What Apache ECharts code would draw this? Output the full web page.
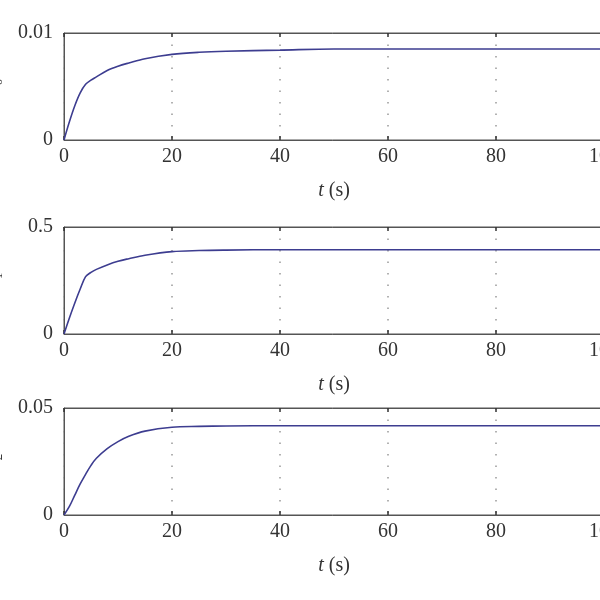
<!DOCTYPE html>
<html>
<head>
<meta charset="utf-8">
<script src="https://cdn.jsdelivr.net/npm/echarts@6/dist/echarts.min.js"></script>
<style>html,body{margin:0;padding:0;background:#fff}#c{width:600px;height:600px}</style>
</head>
<body>
<div id="c"></div>
<script>
var tValues = [0,1,2,3,4,5,6,8,10,12,15,20,25,30,40,50,60,80,100];
var x0Values = [0,0.0017,0.0032,0.0044,0.0052,0.0056,0.0059,0.0065,0.0069,0.0072,0.0076,0.0080,0.0082,0.0083,0.0084,0.0085,0.0085,0.0085,0.0085];
var x1Values = [0,0.075,0.145,0.21,0.268,0.288,0.302,0.323,0.340,0.352,0.368,0.385,0.390,0.392,0.394,0.394,0.394,0.394,0.394];
var x2Values = [0,0.0040,0.0093,0.0145,0.0190,0.0232,0.0265,0.0310,0.0343,0.0368,0.0392,0.0410,0.0414,0.0416,0.0417,0.0417,0.0417,0.0417,0.0417];
var xTicks = [0,20,40,60,80,100];
var yMaxes = [0.01, 0.5, 0.05];
var yNames = ['{i|x}{s|0}','{i|x}{s|1}','{i|x}{s|2}'];
var xName = '{i|t} (s)';

var font = 'Liberation Serif';
var lineColor = '#3d3d90';
var frame = '#555';
var tops = [33, 227, 408];
var h = 107;

function pairs(ys){ return tValues.map(function(t,i){ return [t, ys[i]]; }); }
var seriesData = [x0Values, x1Values, x2Values];

var grids = [], xAxes = [], yAxes = [], series = [];
for (var i = 0; i < 3; i++) {
  grids.push({left: 64, right: -4, top: tops[i], height: h, outerBoundsMode: 'none', containLabel: false,
    show: true, borderColor: frame, borderWidth: 1, backgroundColor: 'transparent'});
  xAxes.push({
    type: 'value', gridIndex: i, min: 0, max: 100, interval: 20, position: 'bottom',
    name: xName, nameLocation: 'middle', nameGap: 41,
    nameTextStyle: {fontFamily: font, fontSize: 20, color: '#333',
      rich: {i: {fontFamily: font, fontSize: 20, fontStyle: 'italic', color: '#333'}}},
    axisLine: {show: true, lineStyle: {color: frame, width: 1}},
    axisTick: {show: true, inside: true, length: 4, lineStyle: {color: '#333', width: 1.5}},
    axisLabel: {fontFamily: font, fontSize: 20, color: '#333', margin: 7},
    splitLine: {show: true, lineStyle: {color: '#999', type: [1.5, 10], width: 1.5}}
  });
  xAxes.push({
    type: 'value', gridIndex: i, min: 0, max: 100, interval: 20, position: 'top',
    axisLine: {show: true, lineStyle: {color: frame, width: 1}},
    axisTick: {show: true, inside: true, length: 4, lineStyle: {color: '#333', width: 1.5}},
    axisLabel: {show: false}, splitLine: {show: false}
  });
  yAxes.push({
    type: 'value', gridIndex: i, min: 0, max: yMaxes[i], interval: yMaxes[i],
    name: yNames[i], nameLocation: 'middle', nameGap: 59, nameRotate: 90,
    nameTextStyle: {fontFamily: font, fontSize: 17, color: '#333',
      rich: {i: {fontFamily: font, fontSize: 20, fontStyle: 'italic', color: '#333'},
             s: {fontFamily: font, fontSize: 13, color: '#333', padding: [8, 0, 0, 0]}}},
    axisLine: {show: true, lineStyle: {color: frame, width: 1}},
    axisTick: {show: false},
    axisLabel: {fontFamily: font, fontSize: 20, color: '#333', margin: 11},
    splitLine: {show: false}
  });
  series.push({
    type: 'line', xAxisIndex: 2*i, yAxisIndex: i, data: pairs(seriesData[i]),
    smooth: 0.35, showSymbol: false, lineStyle: {color: lineColor, width: 1.6}
  });
}

var chart = echarts.init(document.getElementById('c'), null, {renderer: 'canvas'});
chart.setOption({animation: false, grid: grids, xAxis: xAxes, yAxis: yAxes, series: series});
</script>
</body>
</html>
